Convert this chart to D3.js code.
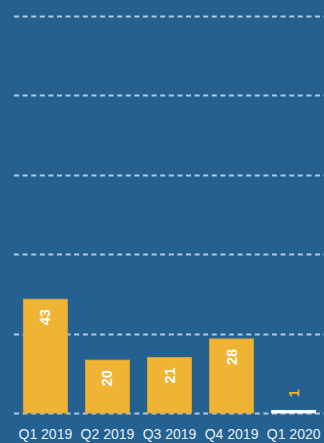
<!DOCTYPE html>
<html>
<head>
<meta charset="utf-8">
<script src="https://cdn.jsdelivr.net/npm/d3@7"></script>
<style>
  html, body { margin: 0; padding: 0; background: #246191; }
  svg { display: block; }
</style>
</head>
<body>
<svg id="chart" width="324" height="443"></svg>
<script>
const categories = ["Q1 2019", "Q2 2019", "Q3 2019", "Q4 2019", "Q1 2020"];
const values = [43, 20, 21, 28, 1];
const barColors = ["#f0b434", "#f0b434", "#f0b434", "#f0b434", "#ffffff"];
const yTicks = [0, 30, 60, 90, 120, 150];

const width = 324, height = 443;
const svg = d3.select("#chart");

svg.append("rect").attr("width", width).attr("height", height).attr("fill", "#246191");

const x = d3.scaleBand().domain(categories).range([14, 325]).paddingInner(0.29).paddingOuter(0.15);
const y = d3.scaleLinear().domain([0, 150]).range([413, 16]);

// dashed horizontal gridlines
svg.append("g").selectAll("line").data(yTicks).join("line")
  .attr("x1", 14).attr("x2", width)
  .attr("y1", d => Math.round(y(d)) + 0.5).attr("y2", d => Math.round(y(d)) + 0.5)
  .attr("stroke", "#b4c8dc").attr("stroke-width", 2)
  .attr("stroke-dasharray", "5,3.6");

// bars
svg.append("g").selectAll("rect").data(values).join("rect")
  .attr("x", (d, i) => x(categories[i]))
  .attr("width", x.bandwidth())
  .attr("y", d => y(d))
  .attr("height", d => y(0) - y(d))
  .attr("fill", (d, i) => barColors[i])
  .attr("stroke", (d, i) => i === 4 ? "#ffffff" : "#d9a53a")
  .attr("stroke-width", 0.8);

// value labels, rotated
const isSmall = d => (y(0) - y(d)) < 30;
svg.append("g").selectAll("text").data(values).join("text")
  .attr("transform", (d, i) => {
    const cx = x(categories[i]) + x.bandwidth() / 2;
    const ty = isSmall(d) ? y(d) - 13 : y(d) + 10;
    return `translate(${cx + 5},${ty}) rotate(-90)`;
  })
  .attr("text-anchor", d => isSmall(d) ? "start" : "end")
  .attr("font-family", "Liberation Sans, Arial, sans-serif")
  .attr("font-weight", "bold")
  .attr("font-size", 14.5)
  .attr("fill", d => isSmall(d) ? "#f0b434" : "#ffffff")
  .text(d => d);

// category axis
const xAxis = svg.append("g").attr("transform", "translate(0,413)")
  .call(d3.axisBottom(x).tickSize(0).tickPadding(16));
xAxis.select(".domain").remove();
xAxis.selectAll("text")
  .attr("font-family", "Liberation Sans, Arial, sans-serif")
  .attr("font-size", 14)
  .attr("fill", "#e8eef4");
</script>
</body>
</html>
